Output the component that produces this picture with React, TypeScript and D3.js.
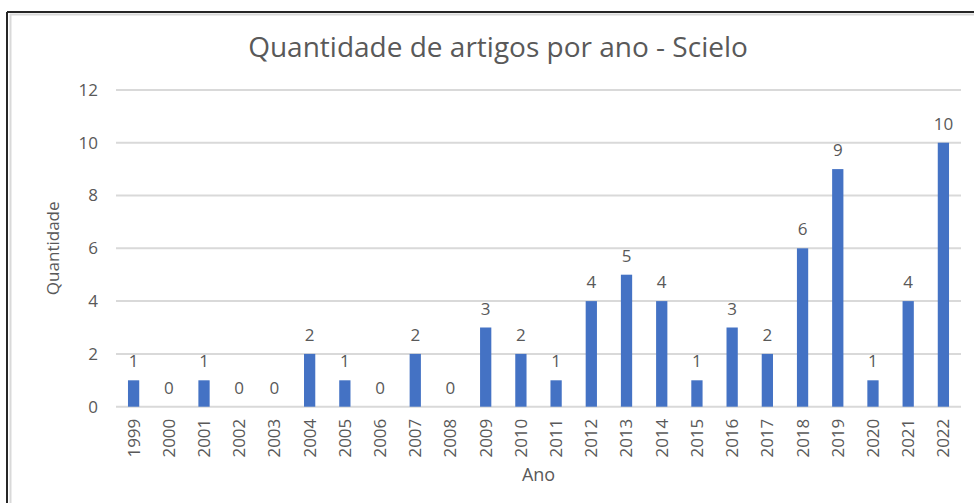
import React from "react";
import * as d3 from "d3";

const years = ["1999","2000","2001","2002","2003","2004","2005","2006","2007","2008","2009","2010","2011","2012","2013","2014","2015","2016","2017","2018","2019","2020","2021","2022"];
const counts = [1,0,1,0,0,2,1,0,2,0,3,2,1,4,5,4,1,3,2,6,9,1,4,10];
const yTicks = [0,2,4,6,8,10,12];
const title = "Quantidade de artigos por ano - Scielo";
const xTitle = "Ano";
const yTitle = "Quantidade";

const W = 974, H = 503;
const left = 116, right = 961, top = 89.9, bottom = 406.7;
const FONT = "'Open Sans', sans-serif";
const TXT = "#595959";

export default function App() {
  const x = d3.scaleBand<string>().domain(years).range([left, right]).paddingInner(0.68).paddingOuter(0.34);
  const y = d3.scaleLinear().domain([0, 12]).range([bottom, top]);
  return (
    <svg width={W} height={H} style={{ position: "absolute", left: 0, top: 0, background: "#fff" }} fontFamily={FONT}>
      <rect x={0} y={0} width={W} height={H} fill="#fff" />
      <line x1={7} x2={W} y1={12} y2={12} stroke="#262626" strokeWidth={2} />
      <line x1={7} x2={7} y1={12} y2={H} stroke="#262626" strokeWidth={2} />
      <line x1={10} x2={W} y1={14.5} y2={14.5} stroke="#d9d9d9" strokeWidth={2} />
      <line x1={10.5} x2={10.5} y1={14} y2={H} stroke="#d9d9d9" strokeWidth={2} />
      <text x={498} y={57} textAnchor="middle" fontSize={28} fill={TXT}>{title}</text>
      {yTicks.map(t => (
        <g key={t}>
          <line x1={left} x2={right} y1={y(t)} y2={y(t)} stroke="#d9d9d9" strokeWidth={2} />
          <text x={98} y={y(t)} dy="0.35em" textAnchor="end" fontSize={17} fill={TXT}>{t}</text>
        </g>
      ))}
      {years.map((yr, i) => {
        const bx = x(yr)!;
        const cx = bx + x.bandwidth() / 2;
        return (
          <g key={yr}>
            {counts[i] > 0 && (
              <rect x={bx} y={y(counts[i])} width={x.bandwidth()} height={bottom - y(counts[i])} fill="#4472c4" />
            )}
            <text x={cx} y={y(counts[i]) - 13} textAnchor="middle" fontSize={17} fill={TXT}>{counts[i]}</text>
            <text transform={`translate(${cx},${bottom + 12}) rotate(-90)`} dy="0.35em" textAnchor="end" fontSize={17} fill={TXT}>{yr}</text>
          </g>
        );
      })}
      <text x={(left + right) / 2} y={481} textAnchor="middle" fontSize={18} fill={TXT}>{xTitle}</text>
      <text transform={`translate(53,${(top + bottom) / 2}) rotate(-90)`} dy="0.35em" textAnchor="middle" fontSize={17} fill={TXT}>{yTitle}</text>
    </svg>
  );
}
